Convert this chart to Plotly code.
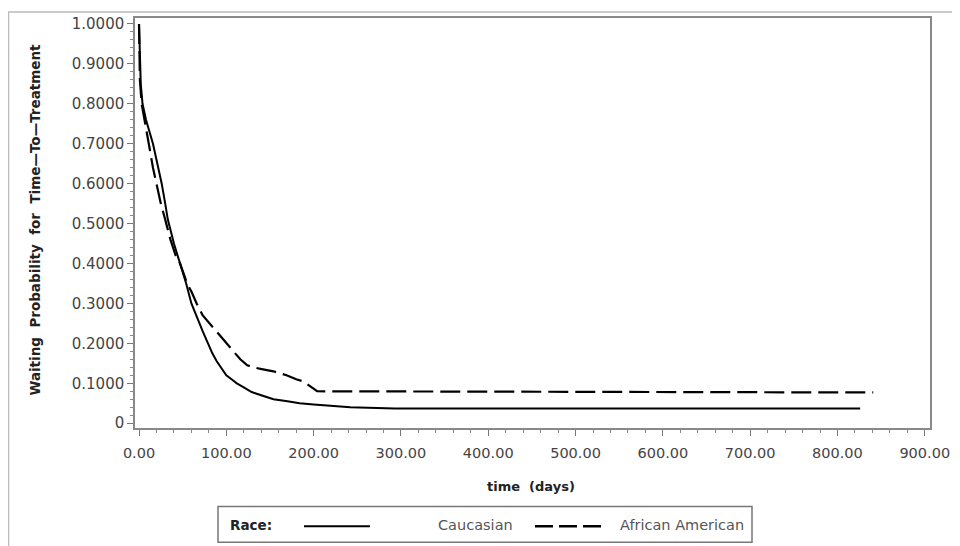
import plotly.graph_objects as go

# ---- data ----
cauc_time = [0, 1, 2, 4, 8, 12, 16, 21, 26, 30, 33, 40, 47, 54, 60, 67, 73, 79, 84, 89,
             95, 100, 106, 112, 120, 129, 140, 154, 170, 184, 200, 222, 242, 293, 826]
cauc_surv = [1.0, 0.88, 0.85, 0.80, 0.76, 0.73, 0.70, 0.65, 0.60, 0.55, 0.51, 0.45, 0.40,
             0.35, 0.30, 0.26, 0.23, 0.20, 0.175, 0.155, 0.135, 0.12, 0.11, 0.10, 0.09,
             0.078, 0.07, 0.06, 0.055, 0.05, 0.047, 0.044, 0.040, 0.037, 0.037]

afam_time = [0, 1, 3, 6, 9, 12, 16, 20, 25, 30, 36, 42, 47, 52, 55, 60, 66, 73, 81, 90,
             100, 108, 116, 124, 131, 142, 154, 169, 180, 188, 195, 204, 841]
afam_surv = [1.0, 0.86, 0.80, 0.76, 0.72, 0.69, 0.64, 0.60, 0.55, 0.51, 0.46, 0.42, 0.40,
             0.37, 0.35, 0.33, 0.30, 0.27, 0.25, 0.225, 0.20, 0.18, 0.16, 0.145, 0.14,
             0.135, 0.13, 0.12, 0.11, 0.105, 0.095, 0.08, 0.077]

x_tickvals = [0, 100, 200, 300, 400, 500, 600, 700, 800, 900]
x_ticktext = ["0.00", "100.00", "200.00", "300.00", "400.00", "500.00",
              "600.00", "700.00", "800.00", "900.00"]
y_tickvals = [0, 0.1, 0.2, 0.3, 0.4, 0.5, 0.6, 0.7, 0.8, 0.9, 1.0]
y_ticktext = ["0", "0.1000", "0.2000", "0.3000", "0.4000", "0.5000",
              "0.6000", "0.7000", "0.8000", "0.9000", "1.0000"]

series_names = ["Caucasian", "African American"]

FONT = "DejaVu Sans"
OFF = 8  # page body margin offset
W, H = 960 - OFF, 546 - OFF
L = 135 - OFF
T = 15 - OFF
R = W - (930 - OFF)
B = H - (428 - OFF)
PW, PH = W - L - R, H - T - B


def px(xp):
    return (xp - OFF - L) / PW


def py(yp):
    return (H - B - (yp - OFF)) / PH


fig = go.Figure()
fig.add_trace(go.Scatter(x=cauc_time, y=cauc_surv, mode="lines", name=series_names[0],
                         line=dict(color="black", width=2), showlegend=False))
fig.add_trace(go.Scatter(x=afam_time, y=afam_surv, mode="lines", name=series_names[1],
                         line=dict(color="black", width=2.2, dash="20px,7px"), showlegend=False))

axis_common = dict(showline=True, linecolor="#888", linewidth=1.5, mirror=True,
                   ticks="outside", ticklen=6, tickcolor="#777", tickwidth=1,
                   showgrid=False, zeroline=False)

fig.update_xaxes(range=[-4.6, 906], tickmode="array", tickvals=x_tickvals, ticktext=x_ticktext,
                 tickfont=dict(family=FONT, size=14.5, color="#444"), ticklabelstandoff=5,
                 minor=dict(tickmode="linear", tick0=0, dtick=20, ticks="outside", ticklen=3,
                            tickcolor="#888"),
                 **axis_common)
fig.update_yaxes(range=[-0.012, 1.015], tickmode="array", tickvals=y_tickvals, ticktext=y_ticktext,
                 tickfont=dict(family=FONT, size=15, color="#444"),
                 minor=dict(tickmode="linear", tick0=0, dtick=0.02, ticks="outside", ticklen=3,
                            tickcolor="#888"),
                 **axis_common)

annotations = [
    dict(text="<b>time  (days)</b>", x=px(531), y=py(487), xref="paper", yref="paper",
         showarrow=False, font=dict(family=FONT, size=13, color="#222"), xanchor="center",
         yanchor="middle"),
    dict(text="<b>Waiting  Probability  for  Time—To—Treatment</b>", x=px(35), y=py(218),
         xref="paper", yref="paper", textangle=-90, showarrow=False,
         font=dict(family=FONT, size=13.5, color="#222"), xanchor="center", yanchor="middle"),
    dict(text="<b>Race:</b>", x=px(228), y=py(526), xref="paper", yref="paper",
         showarrow=False, font=dict(family=FONT, size=13.5, color="#222"), xanchor="left",
         yanchor="middle"),
    dict(text=series_names[0], x=px(436), y=py(526), xref="paper", yref="paper",
         showarrow=False, font=dict(family=FONT, size=14.5, color="#555"), xanchor="left",
         yanchor="middle"),
    dict(text=series_names[1], x=px(618), y=py(526), xref="paper", yref="paper",
         showarrow=False, font=dict(family=FONT, size=14.5, color="#555"), xanchor="left",
         yanchor="middle"),
]

shapes = [
    # outer image frame
    dict(type="rect", xref="paper", yref="paper", x0=px(8.5), x1=px(975), y0=py(9), y1=py(570),
         line=dict(color="#bbb", width=1.5), layer="below"),
    # legend box
    dict(type="rect", xref="paper", yref="paper", x0=px(218), x1=px(752), y0=py(507), y1=py(543),
         line=dict(color="#777", width=1.5), fillcolor="white"),
    # legend samples
    dict(type="line", xref="paper", yref="paper", x0=px(304), x1=px(370), y0=py(527), y1=py(527),
         line=dict(color="black", width=2)),
    dict(type="line", xref="paper", yref="paper", x0=px(535), x1=px(602), y0=py(527), y1=py(527),
         line=dict(color="black", width=2.5, dash="18px,6px")),
]

fig.update_layout(width=W, height=H, margin=dict(l=L, r=R, t=T, b=B),
                  paper_bgcolor="white", plot_bgcolor="white",
                  annotations=annotations, shapes=shapes, showlegend=False)

fig.write_html("out.html")
